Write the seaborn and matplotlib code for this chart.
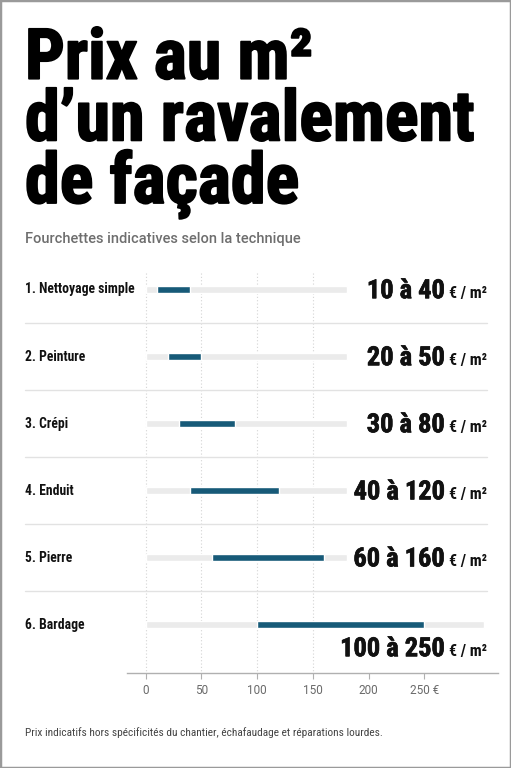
import numpy as np
import matplotlib
matplotlib.use('Agg')
import matplotlib.pyplot as plt
import matplotlib.transforms as mtransforms
import matplotlib.patheffects as pe
from matplotlib import font_manager
from matplotlib.patches import Rectangle
import seaborn as sns

# data
techniques = ['1. Nettoyage simple', '2. Peinture', '3. Crépi', '4. Enduit', '5. Pierre', '6. Bardage']
prix_min = [10, 20, 30, 40, 60, 100]
prix_max = [40, 50, 80, 120, 160, 250]
piste_max = [181, 181, 181, 181, 181, 304]
ticks = [0, 50, 100, 150, 200, 250]
tick_labels = ['0', '50', '100', '150', '200', '250 €']

TEAL = '#175a78'
TRACK = '#ebebeb'

names = {f.name for f in font_manager.fontManager.ttflist}
def pick(cands):
    for c in cands:
        if c in names:
            return c
    return 'DejaVu Sans'

COND = pick(['Roboto Condensed', 'Liberation Sans Narrow', 'DejaVu Sans Condensed', 'Roboto'])
REG = pick(['Roboto', 'Inter', 'DejaVu Sans'])

sns.set_theme(style='white')
plt.rcParams['font.family'] = [REG, 'DejaVu Sans']

W, H = 511, 768
fig = plt.figure(figsize=(W / 100, H / 100), dpi=100)
fig.patch.set_facecolor('white')

def fx(px):
    return px / W

def fy(py):
    return 1 - py / H

# axes: x from 127px to 498px, y from 262px to 673px
ax = fig.add_axes([fx(127), fy(673), (498 - 127) / W, (673 - 262) / H])
s = 1.115
ax.set_xlim((127 - 145.5) / s, (498 - 145.5) / s)

# grey tracks
sns.barplot(x=piste_max, y=techniques, orient='h', color=TRACK, width=0.1,
            ax=ax, saturation=1, zorder=2)
# teal ranges
ypos = np.arange(len(techniques))
ax.barh(ypos, np.array(prix_max) - np.array(prix_min), left=prix_min, height=0.1,
        color=TEAL, zorder=3)

ax.set_ylim(5.72, -0.41)

# dotted vertical guides
ax.vlines([0, 50, 100, 150], -0.25, 5.72, colors='#d4d4d4', linestyles=(0, (1, 2)),
          linewidth=0.8, zorder=1)

# separators between rows
for i in range(len(techniques) - 1):
    ax.plot([(25 - 145.5) / s, (487 - 145.5) / s], [i + 0.5, i + 0.5], color='#e2e2e2',
            linewidth=1, clip_on=False, zorder=1)

ax.set_yticks([])
ax.set_ylabel('')
ax.set_xlabel('')
ax.set_xticks(ticks)
ax.set_xticklabels(tick_labels, color='#6a6a6a', fontsize=8.5)
ax.tick_params(axis='x', length=4, color='#b0b0b0', width=0.8, pad=4, bottom=True)
for sp in ['top', 'right', 'left']:
    ax.spines[sp].set_visible(False)
ax.spines['bottom'].set_color('#b0b0b0')
ax.spines['bottom'].set_linewidth(1)

trans = mtransforms.blended_transform_factory(fig.transFigure, ax.transData)

# row labels
for i, t in enumerate(techniques):
    fig.text(fx(25), i, t, transform=trans, family=COND, fontweight='bold',
             fontsize=9.8, color='#111111', va='center', ha='left')

# value labels
fig.canvas.draw()
r = fig.canvas.get_renderer()
for i, (a, b) in enumerate(zip(prix_min, prix_max)):
    yy = (i if i < 5 else 5.34) + 0.13
    unit = fig.text(fx(487), yy, '€ / m²', transform=trans, family=COND,
                    fontweight='bold', fontsize=11.5, color='#111111',
                    ha='right', va='baseline')
    bb = unit.get_window_extent(renderer=r)
    x_left = (bb.x0 - 4) / W
    fig.text(x_left, yy, f'{a} à {b}', transform=trans, family=COND,
             fontweight='bold', fontsize=19, color='#111111', ha='right', va='baseline',
             path_effects=[pe.withStroke(linewidth=0.5, foreground='#111111')])

# title (one multi-line text, baseline = last line)
fig.text(fx(25), fy(203), 'Prix au m²\nd’un ravalement\nde façade', family=COND,
         fontweight='heavy', fontsize=50.5, color='#000000', ha='left', va='baseline',
         linespacing=0.9, path_effects=[pe.withStroke(linewidth=1.3, foreground='#000000')])

fig.text(fx(25), fy(243), 'Fourchettes indicatives selon la technique', fontsize=10.5,
         color='#6e6e6e', ha='left', va='baseline', fontweight='medium')

fig.text(fx(25), fy(736), 'Prix indicatifs hors spécificités du chantier, échafaudage et réparations lourdes.',
         family=COND, fontsize=8.2, color='#444444', ha='left', va='baseline')

fig.patches.append(Rectangle((0, 0), 1, 1, transform=fig.transFigure, fill=False,
                             edgecolor='#9a9a9a', linewidth=2.5))

fig.savefig('out.png', dpi=100)
